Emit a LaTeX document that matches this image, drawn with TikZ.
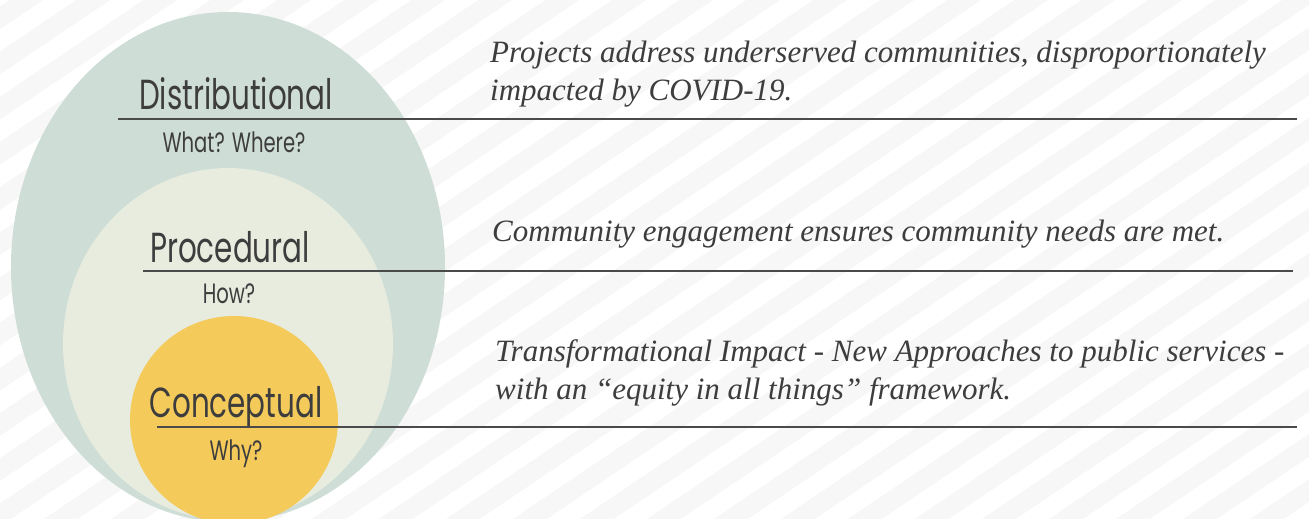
\documentclass[tikz,border=0pt]{standalone}
\usepackage{fontspec}
\usetikzlibrary{positioning}
\newfontfamily\labelfont[FakeStretch=0.7]{Poppins}
\newfontfamily\descfont{Liberation Serif}
\definecolor{outerc}{HTML}{CFDDD7}
\definecolor{middlec}{HTML}{E7ECDF}
\definecolor{innerc}{HTML}{F4CA5B}
\definecolor{inkc}{HTML}{3D3D3D}
\definecolor{rulec}{HTML}{4A4A4A}
\definecolor{stripec}{HTML}{F7F7F7}

\begin{document}
\begin{tikzpicture}[x=1pt,y=-1pt,
	stripe/.style={stripec,line width=19pt},
	level/.style={anchor=base,inner sep=0pt,text=inkc,font=\labelfont\fontsize{42}{42}\selectfont},
	question/.style={anchor=base,inner sep=0pt,text=inkc,font=\labelfont\fontsize{28}{28}\selectfont},
	desc/.style={anchor=north west,inner sep=0pt,align=left,text=inkc,
		font=\descfont\itshape\fontsize{31}{38}\selectfont},
	rule/.style={rulec,line width=1.3pt}]
	\useasboundingbox (0,0) rectangle (1309,519);
	\clip (0,0) rectangle (1309,519);
	% background stripes
	\foreach \i in {-12,...,26}
		\draw[stripe] (\i*67,560) -- ++(-34:1800);
	% nested circles
	\fill[outerc] (228,267) ellipse [x radius=217,y radius=255];
	\fill[middlec] (228,344) ellipse [x radius=165,y radius=176];
	\fill[innerc] (234,420) circle [radius=104];
	% labels
	\node[level] (dist) at (236,110) {Distributional};
	\node[question] (distq) at (234,152) {What? Where?};
	\node[level] (proc) at (230,262) {Procedural};
	\node[question] (procq) at (229,303) {How?};
	\node[level] (conc) at (236,417) {Conceptual};
	\node[question] (concq) at (236,460) {Why?};
	% descriptions
	\node[desc] (distd) at (490,41) {Projects address underserved communities, disproportionately\\impacted by COVID-19.};
	\node[desc] (procd) at (492,220) {Community engagement ensures community needs are met.};
	\node[desc] (concd) at (495,339) {Transformational Impact - New Approaches to public services -\\with an “equity in all things” framework.};
	% rules
	\coordinate (r1a) at (118,119); \coordinate (r1b) at (1297,119);
	\coordinate (r2a) at (143,271); \coordinate (r2b) at (1293,271);
	\coordinate (r3a) at (157,427); \coordinate (r3b) at (1297,427);
	\draw[rule] (r1a) -- (r1b);
	\draw[rule] (r2a) -- (r2b);
	\draw[rule] (r3a) -- (r3b);
\end{tikzpicture}
\end{document}
